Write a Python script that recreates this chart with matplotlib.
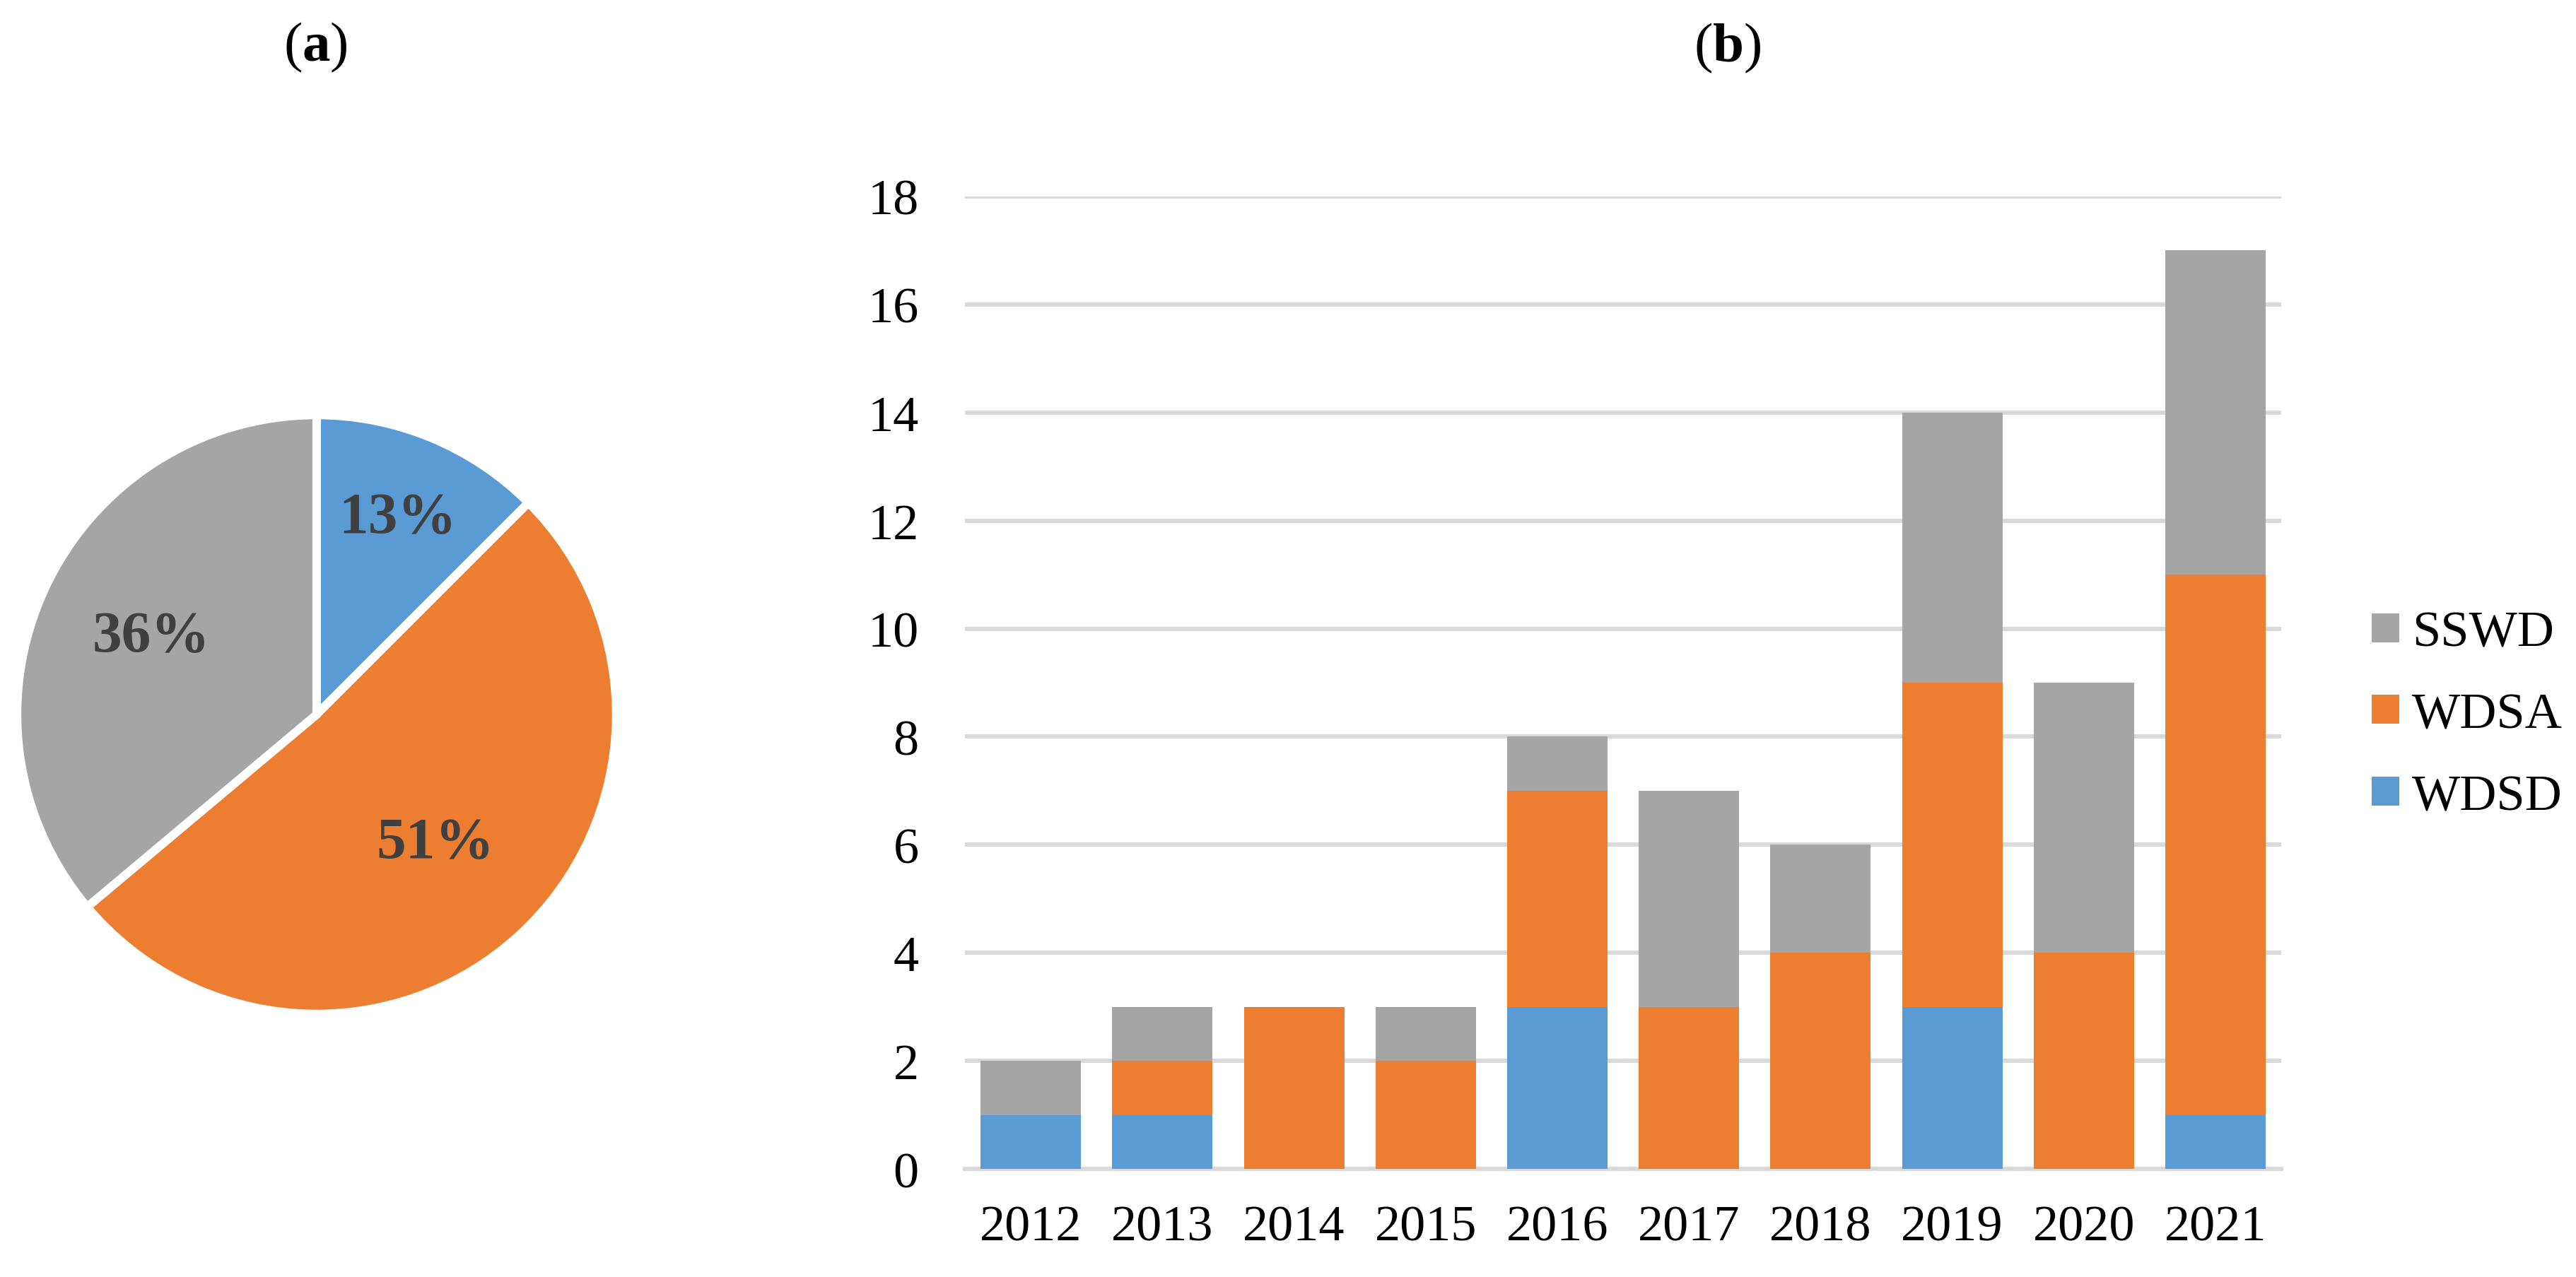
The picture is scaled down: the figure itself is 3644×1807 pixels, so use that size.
import matplotlib
matplotlib.use("Agg")
import matplotlib.pyplot as plt
import numpy as np

plt.rcParams['font.family'] = ['Liberation Serif', 'DejaVu Serif']
plt.rcParams['mathtext.fontset'] = 'custom'
plt.rcParams['mathtext.rm'] = 'Liberation Serif'
plt.rcParams['mathtext.bf'] = 'Liberation Serif:bold'

years = ['2012', '2013', '2014', '2015', '2016', '2017', '2018', '2019', '2020', '2021']
wdsd = [1, 1, 0, 0, 3, 0, 0, 3, 0, 1]
wdsa = [0, 1, 3, 2, 4, 3, 4, 6, 4, 10]
sswd = [1, 1, 0, 1, 1, 4, 2, 5, 5, 6]
series_names = ['WDSD', 'WDSA', 'SSWD']
colors = ['#5B9BD5', '#ED7D31', '#A5A5A5']

# pie shares are the totals of each series
totals = [sum(wdsd), sum(wdsa), sum(sswd)]


def pct_label(p):
    # round half up like Excel does
    return '%d%%' % int(p + 0.5)


fig = plt.figure(figsize=(36.44, 18.08), dpi=100)

# (a) pie
axp = fig.add_axes([0.00082, 0.1941, 0.2442, 0.4923])
wedges, texts, autotexts = axp.pie(totals, colors=colors, startangle=90, counterclock=False,
                                   autopct=pct_label, pctdistance=0.6,
                                   wedgeprops=dict(edgecolor='white', linewidth=8.6),
                                   textprops=dict(fontsize=60, fontweight='bold', color='#404040'))
label_r = [0.71, 0.585, 0.61]
for w, t, r in zip(wedges, autotexts, label_r):
    ang = np.deg2rad((w.theta1 + w.theta2) / 2)
    t.set_position((r * np.cos(ang), r * np.sin(ang)))
axp.set_xlim(-1.05, 1.05)
axp.set_ylim(-1.05, 1.05)
axp.set_aspect('equal')
axp.axis('off')

fig.text(446 / 3644, 1 - 67 / 1808, r'($\mathbf{a}$)', fontsize=57, ha='center', va='center')

# (b) stacked bars
ax = fig.add_axes([0.3746, 0.0846, 0.511, 0.7611])
x = np.arange(len(years))
bw = 0.763
bottom = np.zeros(len(years))
bars = []
for name, vals, c in zip(series_names, [wdsd, wdsa, sswd], colors):
    b = ax.bar(x, vals, bw, bottom=bottom, color=c, label=name, zorder=3)
    bars.append(b)
    bottom += np.array(vals)

ax.set_xlim(-0.5, len(years) - 0.5)
ax.set_ylim(0, 18)
ax.set_yticks(range(0, 19, 2))
ax.set_xticks(x)
ax.set_xticklabels(years)
ax.yaxis.grid(True, color='#D9D9D9', linewidth=4.3, zorder=0)
ax.set_axisbelow(True)
for s in ['top', 'right', 'left']:
    ax.spines[s].set_visible(False)
ax.spines['bottom'].set_color('#D9D9D9')
ax.spines['bottom'].set_linewidth(4.3)
ax.spines['bottom'].set_zorder(0)
ax.tick_params(axis='both', length=0, labelsize=52)
ax.tick_params(axis='y', pad=47)
ax.tick_params(axis='x', pad=36)

handles = [bars[2], bars[1], bars[0]]
ax.legend(handles, ['SSWD', 'WDSA', 'WDSD'], loc='center left',
          bbox_to_anchor=(3355 / 3644, 1 - 1013 / 1808), bbox_transform=fig.transFigure,
          frameon=False, fontsize=52, handlelength=0.54, handleheight=0.5,
          handletextpad=0.25, labelspacing=0.7, borderpad=0, borderaxespad=0)

fig.text(2444 / 3644, 1 - 68 / 1808, r'($\mathbf{b}$)', fontsize=57, ha='center', va='center')

fig.savefig('out.png', dpi=100, facecolor='white')
